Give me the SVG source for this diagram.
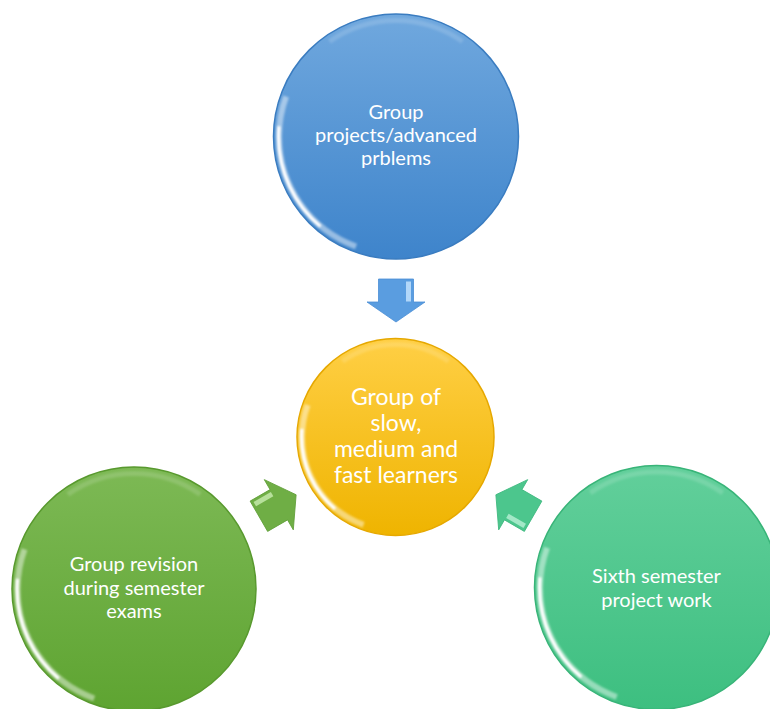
<svg xmlns="http://www.w3.org/2000/svg" width="770" height="709" viewBox="0 0 770 709">
<defs>
<style>
.lbl{font-family:Lato,"Liberation Sans","DejaVu Sans",sans-serif;fill:#ffffff;text-anchor:middle;}
.side{font-size:20px;}
.mid{font-size:23px;}
.hl{fill:none;stroke:#ffffff;stroke-linecap:butt;}
.hl1{stroke-width:6;opacity:0.45;stroke-dasharray:90 270;stroke-dashoffset:-110;}
.hl2{stroke-width:3.5;opacity:1;stroke-dasharray:55 305;stroke-dashoffset:-130;}
.hl3{stroke-width:5;opacity:0.15;stroke-dasharray:70 290;stroke-dashoffset:-235;}
</style>
<linearGradient id="gBlue" x1="0" y1="0" x2="0" y2="1">
<stop offset="0" stop-color="#70a8de"/><stop offset="1" stop-color="#3e84cb"/>
</linearGradient>
<linearGradient id="gYel" x1="0" y1="0" x2="0" y2="1">
<stop offset="0" stop-color="#ffcf45"/><stop offset="1" stop-color="#efb400"/>
</linearGradient>
<linearGradient id="gGrn" x1="0" y1="0" x2="0" y2="1">
<stop offset="0" stop-color="#7db955"/><stop offset="1" stop-color="#5ea431"/>
</linearGradient>
<linearGradient id="gTeal" x1="0" y1="0" x2="0" y2="1">
<stop offset="0" stop-color="#62cf9b"/><stop offset="1" stop-color="#3dbf80"/>
</linearGradient>
<filter id="soft" x="-10%" y="-10%" width="120%" height="120%"><feGaussianBlur stdDeviation="1"/></filter>
<path id="arrow" d="M-17.5,-21.5 L17.5,-21.5 L17.5,1.5 L29,1.5 L0,21.5 L-29,1.5 L-17.5,1.5 Z"/>
</defs>

<g id="node-top">
<circle cx="396" cy="136.5" r="122.5" fill="url(#gBlue)" stroke="#3a7cc0" stroke-width="1.5"/>
<g filter="url(#soft)">
<circle class="hl hl1" cx="396" cy="136.5" r="117" pathLength="360"/>
<circle class="hl hl2" cx="396" cy="136.5" r="117.5" pathLength="360"/>
<circle class="hl hl3" cx="396" cy="136.5" r="116" pathLength="360"/>
</g>
<text class="lbl side" x="396" y="119">Group</text>
<text class="lbl side" x="396" y="142">projects/advanced</text>
<text class="lbl side" x="396" y="165">prblems</text>
</g>

<g id="node-center">
<circle cx="395.5" cy="437" r="98.5" fill="url(#gYel)" stroke="#e6a800" stroke-width="1.5"/>
<g filter="url(#soft)">
<circle class="hl hl1" cx="395.5" cy="437" r="93.5" pathLength="360"/>
<circle class="hl hl2" cx="395.5" cy="437" r="94" pathLength="360"/>
<circle class="hl hl3" cx="395.5" cy="437" r="92.5" pathLength="360"/>
</g>
<text class="lbl mid" x="396" y="405">Group of</text>
<text class="lbl mid" x="396" y="431">slow,</text>
<text class="lbl mid" x="396" y="457">medium and</text>
<text class="lbl mid" x="396" y="483">fast learners</text>
</g>

<g id="node-left">
<circle cx="134" cy="589" r="122" fill="url(#gGrn)" stroke="#58992e" stroke-width="1.5"/>
<g filter="url(#soft)">
<circle class="hl hl1" cx="134" cy="589" r="116.5" pathLength="360"/>
<circle class="hl hl2" cx="134" cy="589" r="117" pathLength="360"/>
<circle class="hl hl3" cx="134" cy="589" r="115.5" pathLength="360"/>
</g>
<text class="lbl side" x="134" y="571">Group revision</text>
<text class="lbl side" x="134" y="595">during semester</text>
<text class="lbl side" x="134" y="618">exams</text>
</g>

<g id="node-right">
<circle cx="656.5" cy="587.5" r="122" fill="url(#gTeal)" stroke="#38b478" stroke-width="1.5"/>
<g filter="url(#soft)">
<circle class="hl hl1" cx="656.5" cy="587.5" r="116.5" pathLength="360"/>
<circle class="hl hl2" cx="656.5" cy="587.5" r="117" pathLength="360"/>
<circle class="hl hl3" cx="656.5" cy="587.5" r="115.5" pathLength="360"/>
</g>
<text class="lbl side" x="656.5" y="583">Sixth semester</text>
<text class="lbl side" x="656.5" y="607">project work</text>
</g>

<g id="connectors">
<g transform="translate(396,300.5)">
<use href="#arrow" fill="#5a9de0" stroke="#4a8ed6" stroke-width="0.8"/>
<rect x="10" y="-19" width="5" height="20" fill="#c8e6ff" opacity="0.8"/>
</g>
<g transform="translate(277.5,505.5) rotate(-120)">
<use href="#arrow" fill="#6fae45" stroke="#62a03a" stroke-width="0.8"/>
<rect x="10" y="-19" width="5" height="20" fill="#c9ecb0" opacity="0.8"/>
</g>
<g transform="translate(514.5,505.5) rotate(120)">
<use href="#arrow" fill="#4cc68d" stroke="#3fb87f" stroke-width="0.8"/>
<rect x="10" y="-19" width="5" height="20" fill="#b9f0d6" opacity="0.8"/>
</g>
</g>
</svg>
